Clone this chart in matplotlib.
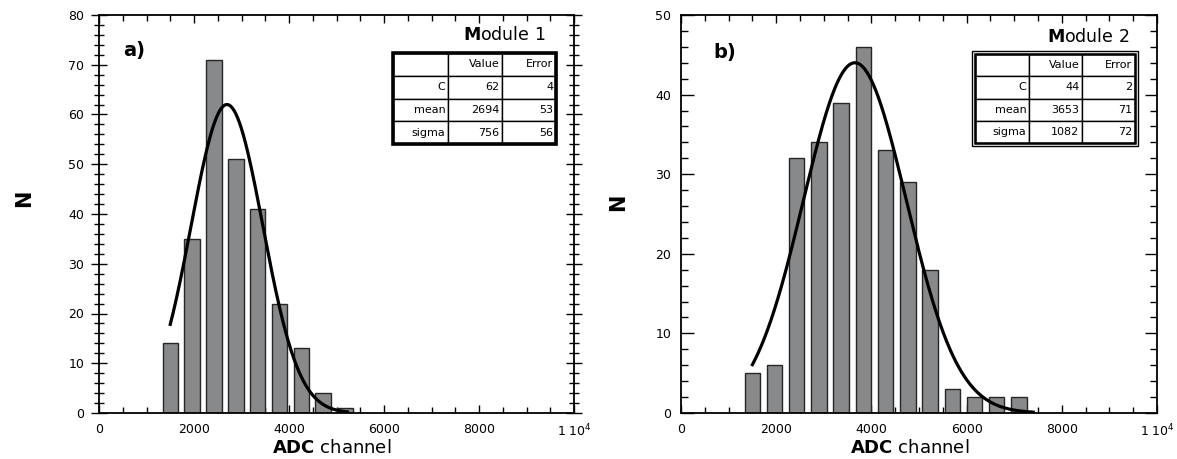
import numpy as np
import matplotlib
matplotlib.use("Agg")
import matplotlib.pyplot as plt
from matplotlib.ticker import MultipleLocator, FixedLocator, FixedFormatter
from matplotlib.patches import Rectangle

# ---- data -------------------------------------------------------------
centers_1 = [1500, 1960, 2420, 2880, 3340, 3800, 4260, 4720, 5180]
counts_1 = [14, 35, 71, 51, 41, 22, 13, 4, 1]
fit_1 = {"C": 62, "mean": 2694, "sigma": 756}
err_1 = {"C": 4, "mean": 53, "sigma": 56}
fit_range_1 = (1500, 5230)

centers_2 = [1500, 1965, 2430, 2900, 3365, 3830, 4300, 4765, 5230, 5700,
             6165, 6630, 7100]
counts_2 = [5, 6, 32, 34, 39, 46, 33, 29, 18, 3, 2, 2, 2]
fit_2 = {"C": 44, "mean": 3653, "sigma": 1082}
err_2 = {"C": 2, "mean": 71, "sigma": 72}
fit_range_2 = (1500, 7400)

xtick_values = [0, 2000, 4000, 6000, 8000, 10000]
xtick_labels = ["0", "2000", "4000", "6000", "8000", r"1 10$^4$"]

# ---- figure -----------------------------------------------------------
W, H = 1177, 459
fig = plt.figure(figsize=(W / 100, H / 100), dpi=100)
plt.rcParams["font.family"] = ["DejaVu Sans"]
plt.rcParams["mathtext.fontset"] = "dejavusans"


def px_axes(l, t, r, b):
    return [l / W, 1 - b / H, (r - l) / W, (b - t) / H]


ax1 = fig.add_axes(px_axes(99, 15, 574, 413))
ax2 = fig.add_axes(px_axes(681, 15, 1157, 413))

BAR_FACE = "#87898b"
BAR_EDGE = "#262626"


def gauss(x, p):
    return p["C"] * np.exp(-(x - p["mean"]) ** 2 / (2 * p["sigma"] ** 2))


def panel(ax, centers, counts, fit, err, frange, ymax, ytick_dir,
          tag, tag_pos, title, title_pos, table_box, double_border):
    ax.bar(centers, counts, width=325, color=BAR_FACE, edgecolor=BAR_EDGE,
           linewidth=1.0, zorder=2)
    xs = np.linspace(frange[0], frange[1], 400)
    ax.plot(xs, gauss(xs, fit), color="black", lw=2.3, zorder=3)

    ax.set_xlim(0, 10000)
    ax.set_ylim(0, ymax)
    ax.xaxis.set_major_locator(FixedLocator(xtick_values))
    ax.xaxis.set_major_formatter(FixedFormatter(xtick_labels))
    ax.xaxis.set_minor_locator(MultipleLocator(500))
    ax.yaxis.set_major_locator(MultipleLocator(10))
    ax.yaxis.set_minor_locator(MultipleLocator(2))

    ax.tick_params(axis="x", which="both", direction="in", top=True,
                   bottom=True, labelsize=9, pad=7, width=1.0)
    ax.tick_params(axis="x", which="major", length=6)
    ax.tick_params(axis="x", which="minor", length=4)
    if ytick_dir == "inout":
        ax.tick_params(axis="y", which="both", direction="inout", left=True,
                       right=True, labelsize=9, pad=5, width=1.0)
        ax.tick_params(axis="y", which="major", length=11)
        ax.tick_params(axis="y", which="minor", length=7)
    else:
        ax.tick_params(axis="y", which="both", direction="in", left=True,
                       right=True, labelsize=9, pad=7, width=1.0)
        ax.tick_params(axis="y", which="major", length=9)
        ax.tick_params(axis="y", which="minor", length=5)
    for s in ax.spines.values():
        s.set_linewidth(1.3)

    ax.text(tag_pos[0], tag_pos[1], tag, transform=ax.transAxes,
            fontsize=14, fontweight="bold", ha="left", va="center")
    ax.text(title_pos[0], title_pos[1], title, transform=ax.transAxes,
            fontsize=12.5, ha="right", va="center")

    # parameter table
    x0, y0, x1, y1 = table_box
    cell_text = [["", "Value", "Error"],
                 ["C", str(fit["C"]), str(err["C"])],
                 ["mean", str(fit["mean"]), str(err["mean"])],
                 ["sigma", str(fit["sigma"]), str(err["sigma"])]]
    w = x1 - x0
    tbl = ax.table(cellText=cell_text, cellLoc="right",
                   colWidths=[0.34, 0.33, 0.33],
                   bbox=[x0, y0, w, y1 - y0], zorder=5)
    tbl.auto_set_font_size(False)
    tbl.set_fontsize(8)
    for cell in tbl.get_celld().values():
        cell.set_linewidth(1.0)
        cell.set_edgecolor("black")
        cell.PAD = 0.05
    if double_border:
        pad_x, pad_y = 3 / 476, 3 / 398
        ax.add_patch(Rectangle((x0 - pad_x, y0 - pad_y), w + 2 * pad_x,
                               y1 - y0 + 2 * pad_y, transform=ax.transAxes,
                               fill=False, lw=1.0, ec="black", zorder=6))
        ax.add_patch(Rectangle((x0, y0), w, y1 - y0, transform=ax.transAxes,
                               fill=False, lw=1.8, ec="black", zorder=6))
    else:
        ax.add_patch(Rectangle((x0, y0), w, y1 - y0, transform=ax.transAxes,
                               fill=False, lw=2.6, ec="black", zorder=6))


panel(ax1, centers_1, counts_1, fit_1, err_1, fit_range_1, 80, "inout",
      "a)", (0.05, 0.912), r"$\mathbf{M}$odule 1", (0.94, 0.95),
      (0.618, 0.675, 0.962, 0.905), False)
panel(ax2, centers_2, counts_2, fit_2, err_2, fit_range_2, 50, "in",
      "b)", (0.067, 0.907), r"$\mathbf{M}$odule 2", (0.941, 0.945),
      (0.617, 0.678, 0.954, 0.902), True)

# axis titles
for xc, yc in [(24, 198), (618, 202)]:
    fig.text(xc / W, 1 - yc / H, "N", fontsize=15, fontweight="bold",
             rotation=90, ha="center", va="center")
for xc in [332, 910]:
    fig.text(xc / W, 1 - 448 / H, r"$\mathbf{ADC}$ channel", fontsize=13,
             ha="center", va="center")

fig.savefig("out.png", dpi=100)
